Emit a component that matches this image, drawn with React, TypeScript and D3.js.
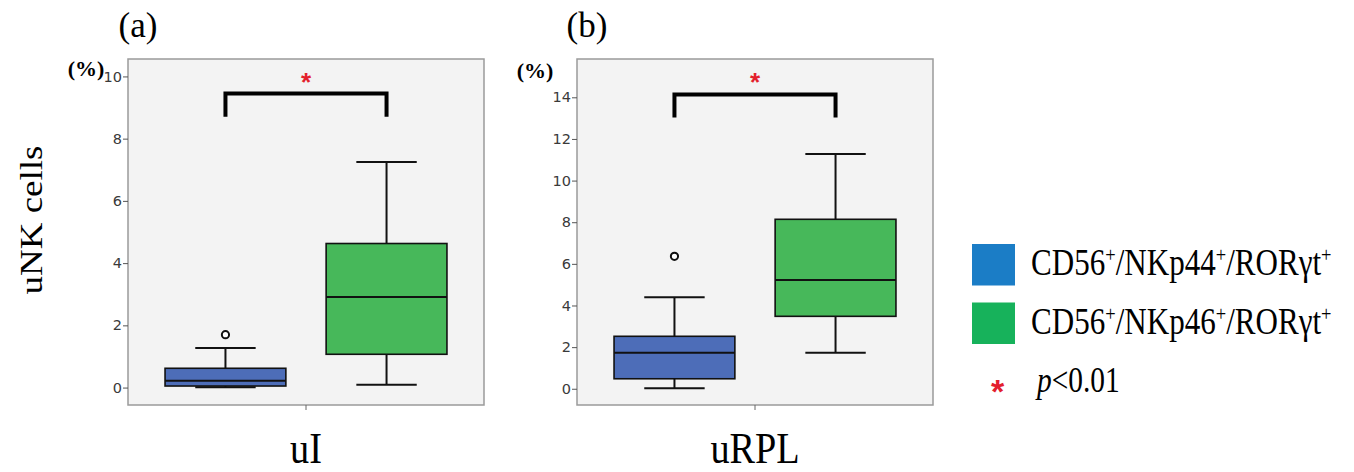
import * as d3 from "d3";
import { useEffect, useRef } from "react";

// five-number summaries per group: [min, q1, median, q3, max]
const groups = ["CD56+/NKp44+/RORγt+", "CD56+/NKp46+/RORγt+"];
const boxColors = ["#4d6db8", "#47b85a"];
const legendColors = ["#1b7dc6", "#17b25b"];

const uIStats = [
  [0.01, 0.05, 0.22, 0.62, 1.27],
  [0.09, 1.07, 2.91, 4.63, 7.25],
];
const uIOutliers = [[1.7], []];
const uITicks = [0, 2, 4, 6, 8, 10];

const uRPLStats = [
  [0.03, 0.48, 1.73, 2.52, 4.39],
  [1.73, 3.48, 5.22, 8.14, 11.28],
];
const uRPLOutliers = [[6.36], []];
const uRPLTicks = [0, 2, 4, 6, 8, 10, 12, 14];

const serif = "'Liberation Serif', 'Times New Roman', serif";
const sans = "'DejaVu Sans', sans-serif";

const W = 356,
  H = 346;

type Panel = {
  left: number;
  top: number;
  stats: number[][];
  outliers: number[][];
  ticks: number[];
  domain: [number, number];
  bracket: [number, number];
  label: string;
  tag: string;
};

const panels: Panel[] = [
  {
    left: 128,
    top: 59,
    stats: uIStats,
    outliers: uIOutliers,
    ticks: uITicks,
    domain: [-0.56, 10.56],
    bracket: [8.7, 9.45],
    label: "uI",
    tag: "(a)",
  },
  {
    left: 577,
    top: 59,
    stats: uRPLStats,
    outliers: uRPLOutliers,
    ticks: uRPLTicks,
    domain: [-0.78, 15.84],
    bracket: [13.03, 14.14],
    label: "uRPL",
    tag: "(b)",
  },
];

const drawPanel = (svg, p: Panel) => {
  const g = svg.append("g").attr("transform", `translate(${p.left},${p.top})`);
  const x = d3
    .scaleBand()
    .domain(groups)
    .range([0, W])
    .paddingInner(0.25)
    .paddingOuter(0.23);
  const y = d3.scaleLinear().domain(p.domain).range([H, 0]);

  g.append("rect")
    .attr("width", W)
    .attr("height", H)
    .attr("fill", "#f3f3f3")
    .attr("stroke", "#9a9a9a")
    .attr("stroke-width", 1.5);

  const yAxis = g
    .append("g")
    .call(d3.axisLeft(y).tickValues(p.ticks).tickSize(5).tickPadding(1));
  yAxis.select(".domain").remove();
  yAxis.selectAll("line").attr("stroke", "#555");
  yAxis
    .selectAll("text")
    .attr("font-family", sans)
    .attr("font-size", 14.5)
    .attr("fill", "#3a3a3a");

  // category tick at the bottom
  g.append("line")
    .attr("x1", W / 2)
    .attr("x2", W / 2)
    .attr("y1", H)
    .attr("y2", H + 5)
    .attr("stroke", "#666");

  const bw = x.bandwidth();
  p.stats.forEach((s, i) => {
    const cx = x(groups[i]) + bw / 2;
    const [mn, q1, md, q3, mx] = s;
    const bx = g.append("g");
    // whiskers
    bx.append("line")
      .attr("x1", cx).attr("x2", cx)
      .attr("y1", y(q3)).attr("y2", y(mx))
      .attr("stroke", "#111").attr("stroke-width", 2);
    bx.append("line")
      .attr("x1", cx).attr("x2", cx)
      .attr("y1", y(q1)).attr("y2", y(mn))
      .attr("stroke", "#111").attr("stroke-width", 2);
    [mn, mx].forEach((v) =>
      bx.append("line")
        .attr("x1", cx - bw / 4).attr("x2", cx + bw / 4)
        .attr("y1", y(v)).attr("y2", y(v))
        .attr("stroke", "#111").attr("stroke-width", 2)
    );
    bx.append("rect")
      .attr("x", cx - bw / 2)
      .attr("width", bw)
      .attr("y", y(q3))
      .attr("height", y(q1) - y(q3))
      .attr("fill", boxColors[i])
      .attr("stroke", "#111")
      .attr("stroke-width", 1.6);
    bx.append("line")
      .attr("x1", cx - bw / 2).attr("x2", cx + bw / 2)
      .attr("y1", y(md)).attr("y2", y(md))
      .attr("stroke", "#111").attr("stroke-width", 2);
    p.outliers[i].forEach((o) =>
      bx.append("circle")
        .attr("cx", cx).attr("cy", y(o)).attr("r", 3.6)
        .attr("fill", "#fff").attr("stroke", "#111").attr("stroke-width", 2)
    );
  });

  // significance bracket
  const x0 = x(groups[0]) + bw / 2,
    x1 = x(groups[1]) + bw / 2;
  const [lo, hi] = p.bracket;
  g.append("path")
    .attr("d", `M${x0},${y(lo)}V${y(hi)}H${x1}V${y(lo)}`)
    .attr("fill", "none")
    .attr("stroke", "#000")
    .attr("stroke-width", 4);
  g.append("text")
    .attr("x", (x0 + x1) / 2)
    .attr("y", y(hi) - 3)
    .attr("text-anchor", "middle")
    .attr("font-family", "'Liberation Sans', sans-serif")
    .attr("font-weight", "bold")
    .attr("font-size", 26)
    .attr("fill", "#e3202c")
    .text("*");

  // labels
  svg.append("text")
    .attr("transform", `translate(${p.left + W / 2},463) scale(0.85,1)`)
    .attr("text-anchor", "middle")
    .attr("font-family", serif)
    .attr("font-size", 45)
    .text(p.label);
  svg.append("text")
    .attr("x", p.left + 10)
    .attr("y", 37)
    .attr("text-anchor", "middle")
    .attr("font-family", serif)
    .attr("font-size", 35)
    .text(p.tag);
  svg.append("text")
    .attr("x", p.left - 42)
    .attr("y", p.tag === "(a)" ? 76 : 78)
    .attr("text-anchor", "middle")
    .attr("font-family", serif)
    .attr("font-weight", "bold")
    .attr("font-size", 22)
    .text("(%)");
};

const drawLegend = (svg) => {
  groups.forEach((name, i) => {
    const top = i === 0 ? 244 : 302.5;
    svg.append("rect")
      .attr("x", 972).attr("y", top)
      .attr("width", 43).attr("height", 41.5)
      .attr("fill", legendColors[i]);
    const t = svg.append("text")
      .attr("transform", `translate(1031,${top + 31}) scale(0.84,1)`)
      .attr("font-family", serif)
      .attr("font-size", 37);
    name.split("+").forEach((part, j, arr) => {
      if (part) t.append("tspan").attr("dy", j === 0 ? 0 : 13).text(part);
      if (j < arr.length - 1)
        t.append("tspan").attr("dy", -13).attr("font-size", 22).text("+");
    });
  });
  svg.append("text")
    .attr("x", 997.5).attr("y", 403)
    .attr("text-anchor", "middle")
    .attr("font-family", "'Liberation Sans', sans-serif")
    .attr("font-weight", "bold")
    .attr("font-size", 34)
    .attr("fill", "#e3202c")
    .text("*");
  const pt = svg.append("text")
    .attr("transform", "translate(1037,392) scale(0.84,1)")
    .attr("font-family", serif)
    .attr("font-size", 35);
  pt.append("tspan").attr("font-style", "italic").text("p");
  pt.append("tspan").text("<0.01");
};

export default function App() {
  const ref = useRef<SVGSVGElement>(null);

  useEffect(() => {
    const svg = d3.select(ref.current);
    svg.selectAll("*").remove();
    panels.forEach((p) => drawPanel(svg, p));

    svg.append("text")
      .attr("transform", "translate(42,220) scale(0.84,1) rotate(-90)")
      .attr("text-anchor", "middle")
      .attr("font-family", serif)
      .attr("font-size", 37)
      .text("uNK cells");

    drawLegend(svg);
  }, []);

  return (
    <svg
      ref={ref}
      width={1354}
      height={472}
      style={{ position: "absolute", left: 0, top: 0, background: "#fff" }}
    />
  );
}
